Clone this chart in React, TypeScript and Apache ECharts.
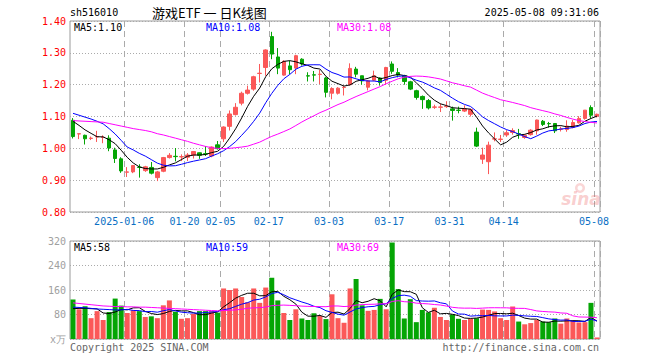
import React, { useEffect, useRef } from "react";
import * as echarts from "echarts";

// ---- data ----
const dates = (
  "2024-12-23,2024-12-24,2024-12-25,2024-12-26,2024-12-27,2024-12-30,2024-12-31,2025-01-02,2025-01-03,2025-01-06," +
  "2025-01-07,2025-01-08,2025-01-09,2025-01-10,2025-01-13,2025-01-14,2025-01-15,2025-01-16,2025-01-17,2025-01-20," +
  "2025-01-21,2025-01-22,2025-01-23,2025-01-24,2025-01-27,2025-02-05,2025-02-06,2025-02-07,2025-02-10,2025-02-11," +
  "2025-02-12,2025-02-13,2025-02-14,2025-02-17,2025-02-18,2025-02-19,2025-02-20,2025-02-21,2025-02-24,2025-02-25," +
  "2025-02-26,2025-02-27,2025-02-28,2025-03-03,2025-03-04,2025-03-05,2025-03-06,2025-03-07,2025-03-10,2025-03-11," +
  "2025-03-12,2025-03-13,2025-03-14,2025-03-17,2025-03-18,2025-03-19,2025-03-20,2025-03-21,2025-03-24,2025-03-25," +
  "2025-03-26,2025-03-27,2025-03-28,2025-03-31,2025-04-01,2025-04-02,2025-04-03,2025-04-07,2025-04-08,2025-04-09," +
  "2025-04-10,2025-04-11,2025-04-14,2025-04-15,2025-04-16,2025-04-17,2025-04-18,2025-04-21,2025-04-22,2025-04-23," +
  "2025-04-24,2025-04-25,2025-04-28,2025-04-29,2025-04-30,2025-05-06,2025-05-07,2025-05-08"
).split(",");

const tickDates = ["2025-01-06", "2025-01-20", "2025-02-05", "2025-02-17", "2025-03-03", "2025-03-17", "2025-03-31", "2025-04-14", "2025-05-08"];
const tickLabels = ["2025-01-06", "01-20", "02-05", "02-17", "03-03", "03-17", "03-31", "04-14", "05-08"];

const opens = [
  1.088, 1.045, 1.041, 1.031, 1.036, 1.034, 1.032, 0.995, 0.967, 0.925,
  0.926, 0.941, 0.930, 0.940, 0.908, 0.928, 0.971, 0.975, 0.973, 0.972,
  0.979, 0.986, 0.983, 0.976, 1.011, 1.030, 1.069, 1.106, 1.142, 1.173,
  1.186, 1.235, 1.254, 1.351, 1.287, 1.230, 1.259, 1.252, 1.280, 1.228,
  1.231, 1.232, 1.221, 1.173, 1.173, 1.191, 1.200, 1.249, 1.228, 1.192,
  1.214, 1.221, 1.214, 1.265, 1.238, 1.228, 1.209, 1.181, 1.163, 1.150,
  1.129, 1.129, 1.131, 1.124, 1.120, 1.117, 1.107, 1.051, 0.966, 0.958,
  1.029, 1.028, 1.042, 1.050, 1.046, 1.034, 1.043, 1.055, 1.085, 1.078,
  1.078, 1.060, 1.059, 1.066, 1.080, 1.094, 1.128, 1.101,
];
const closes = [
  1.037, 1.046, 1.030, 1.032, 1.037, 1.035, 1.001, 0.968, 0.929, 0.926,
  0.946, 0.940, 0.942, 0.922, 0.926, 0.971, 0.978, 0.974, 0.974, 0.979,
  0.990, 0.978, 0.982, 1.004, 0.999, 1.067, 1.108, 1.129, 1.173, 1.183,
  1.225, 1.236, 1.309, 1.296, 1.252, 1.273, 1.247, 1.291, 1.265, 1.227,
  1.230, 1.233, 1.176, 1.188, 1.189, 1.192, 1.251, 1.233, 1.212, 1.212,
  1.228, 1.207, 1.254, 1.242, 1.230, 1.210, 1.186, 1.160, 1.153, 1.127,
  1.130, 1.130, 1.132, 1.119, 1.119, 1.124, 1.122, 1.007, 0.979, 1.010,
  1.030, 1.029, 1.049, 1.056, 1.045, 1.041, 1.057, 1.089, 1.075, 1.077,
  1.055, 1.061, 1.070, 1.081, 1.094, 1.120, 1.104, 1.107,
];
const lows = [
  1.031, 1.029, 1.012, 1.026, 1.020, 1.016, 0.991, 0.954, 0.923, 0.910,
  0.922, 0.908, 0.926, 0.918, 0.897, 0.925, 0.968, 0.959, 0.960, 0.960,
  0.968, 0.967, 0.976, 0.972, 0.996, 1.020, 1.056, 1.103, 1.135, 1.169,
  1.181, 1.207, 1.228, 1.280, 1.233, 1.228, 1.233, 1.233, 1.260, 1.210,
  1.210, 1.202, 1.160, 1.154, 1.169, 1.166, 1.197, 1.223, 1.200, 1.182,
  1.212, 1.197, 1.200, 1.234, 1.223, 1.200, 1.183, 1.153, 1.124, 1.122,
  1.124, 1.114, 1.127, 1.087, 1.110, 1.114, 1.100, 1.004, 0.951, 0.919,
  1.022, 1.020, 1.036, 1.043, 1.030, 1.030, 1.040, 1.043, 1.070, 1.065,
  1.048, 1.053, 1.052, 1.063, 1.078, 1.090, 1.094, 1.097,
];
const highs = [
  1.095, 1.046, 1.043, 1.037, 1.055, 1.041, 1.041, 1.002, 0.972, 0.941,
  0.946, 0.950, 0.945, 0.957, 0.929, 0.973, 0.985, 1.001, 0.981, 0.985,
  0.991, 0.987, 1.007, 1.006, 1.023, 1.069, 1.119, 1.142, 1.178, 1.197,
  1.228, 1.265, 1.311, 1.366, 1.315, 1.277, 1.275, 1.294, 1.283, 1.239,
  1.243, 1.246, 1.225, 1.192, 1.192, 1.197, 1.267, 1.256, 1.228, 1.214,
  1.244, 1.223, 1.256, 1.273, 1.252, 1.231, 1.212, 1.184, 1.166, 1.155,
  1.137, 1.141, 1.148, 1.131, 1.131, 1.135, 1.125, 1.065, 1.002, 1.021,
  1.050, 1.042, 1.057, 1.063, 1.061, 1.044, 1.060, 1.090, 1.089, 1.083,
  1.079, 1.068, 1.088, 1.089, 1.101, 1.120, 1.135, 1.109,
];
// volume, 万
const volumes = [
  129, 97, 107, 68, 91, 62, 88, 132, 109, 85,
  94, 91, 72, 74, 68, 110, 126, 89, 66, 68,
  82, 91, 91, 91, 86, 165, 160, 165, 137, 120,
  165, 118, 168, 200, 126, 85, 62, 97, 67, 62,
  84, 75, 65, 146, 68, 53, 165, 196, 110, 92,
  95, 131, 97, 315, 163, 67, 130, 55, 95, 87,
  102, 72, 62, 80, 66, 62, 66, 68, 96, 95,
  90, 68, 62, 106, 57, 48, 52, 62, 57, 55,
  67, 50, 67, 60, 54, 55, 118, 5,
];
// moving-average values at the left edge (history before the window)
const ma5Head = [1.085, 1.072, 1.058, 1.047];
const ma10Head = [1.11, 1.104, 1.098, 1.092, 1.085, 1.077, 1.062, 1.045, 1.025];
const ma30Head = [
  1.087, 1.086, 1.085, 1.084, 1.083, 1.082, 1.078, 1.074, 1.07, 1.066,
  1.062, 1.059, 1.056, 1.052, 1.046, 1.042, 1.037, 1.032, 1.027, 1.022,
  1.016, 1.011, 1.006, 1.002, 1.0, 0.999, 1.0, 1.002, 1.004,
];
const vma5Head = [99, 100, 100, 99];
const vma10Head = [104, 103, 102, 100, 98, 97, 96, 95, 95];
const vma30Head = [
  118, 116, 114, 112, 110, 108, 107, 106, 106, 105,
  105, 104, 104, 103, 102, 101, 100, 99, 98, 97,
  96, 95, 94, 93, 92, 93, 94, 95, 97,
];

const RED = "#fb5858";
const GREEN = "#05a505";
const MONO = "DejaVu Sans Mono";

function movingAvg(vals: number[], n: number, head: number[]): number[] {
  return vals.map((_, i) => {
    if (i < n - 1) return head[i];
    let s = 0;
    for (let k = i - n + 1; k <= i; k++) s += vals[k];
    return s / n;
  });
}

export default function App() {
  const ref = useRef<HTMLDivElement>(null);
  useEffect(() => {
    const chart = echarts.init(ref.current!, null, { renderer: "svg" });
    const ma5 = movingAvg(closes, 5, ma5Head);
    const ma10 = movingAvg(closes, 10, ma10Head);
    const ma30 = movingAvg(closes, 30, ma30Head);
    const vma5 = movingAvg(volumes, 5, vma5Head);
    const vma10 = movingAvg(volumes, 10, vma10Head);
    const vma30 = movingAvg(volumes, 30, vma30Head);
    const last = (a: number[]) => a[a.length - 1];
    const isTick = (_i: number, v: string) => tickDates.includes(v);
    const vDash = { show: true, interval: isTick, lineStyle: { color: "#aaa", type: [6, 4] as any, width: 1 } };
    const hDot = { show: true, lineStyle: { color: "#aaa", type: [1, 2] as any, width: 1 } };
    const txt = (text: string, x: number, y: number, fill: string, align = "left", font = `10px "${MONO}"`) => ({
      type: "text",
      x,
      y,
      silent: true,
      z: 100,
      style: { text, fill, font, textAlign: align, textVerticalAlign: "middle" },
    });
    const lineS = (data: number[], color: string, gi: number) => ({
      type: "line",
      xAxisIndex: gi,
      yAxisIndex: gi,
      data,
      symbol: "none",
      silent: true,
      z: 5,
      lineStyle: { width: 1, color },
      itemStyle: { color },
    });

    chart.setOption({
      animation: false,
      backgroundColor: "#fff",
      grid: [
        { left: 70, top: 21, width: 530, height: 191, show: true, borderColor: "#9a9a9a", borderWidth: 1, backgroundColor: "transparent" },
        { left: 70, top: 241, width: 530, height: 98, show: true, borderColor: "#9a9a9a", borderWidth: 1, backgroundColor: "transparent" },
      ],
      xAxis: [
        {
          type: "category",
          gridIndex: 0,
          data: dates,
          boundaryGap: true,
          axisLine: { show: false },
          axisTick: { show: false },
          splitLine: vDash,
          axisLabel: {
            interval: isTick,
            formatter: (v: string) => tickLabels[tickDates.indexOf(v)],
            color: "#0a6fc4",
            fontFamily: MONO,
            fontSize: 10,
            margin: 4,
            padding: [0, 6, 0, 0],
          },
        },
        {
          type: "category",
          gridIndex: 1,
          data: dates,
          boundaryGap: true,
          axisLine: { show: false },
          axisTick: { show: false },
          axisLabel: { show: false },
          splitLine: vDash,
        },
      ],
      yAxis: [
        {
          type: "value",
          gridIndex: 0,
          min: 0.8,
          max: 1.4,
          interval: 0.1,
          axisLine: { show: false },
          axisTick: { show: false },
          splitLine: hDot,
          axisLabel: {
            color: "#ff0000",
            fontFamily: MONO,
            fontSize: 10,
            margin: 4,
            formatter: (v: number) => v.toFixed(2),
          },
        },
        {
          type: "value",
          gridIndex: 1,
          min: 0,
          max: 320,
          interval: 80,
          axisLine: { show: false },
          axisTick: { show: false },
          splitLine: hDot,
          axisLabel: {
            color: "#a0a0a0",
            fontFamily: MONO,
            fontSize: 10,
            margin: 4,
            formatter: (v: number) => (v === 0 ? "x万" : String(v)),
          },
        },
      ],
      series: [
        {
          type: "candlestick",
          xAxisIndex: 0,
          yAxisIndex: 0,
          barWidth: 4,
          silent: true,
          data: dates.map((_, i) => [opens[i], closes[i], lows[i], highs[i]]),
          itemStyle: { color: RED, color0: GREEN, borderColor: RED, borderColor0: GREEN, borderWidth: 1 },
        },
        lineS(ma5, "#000000", 0),
        lineS(ma10, "#0000ff", 0),
        lineS(ma30, "#ff00ff", 0),
        {
          type: "bar",
          xAxisIndex: 1,
          yAxisIndex: 1,
          barWidth: 5,
          silent: true,
          data: volumes.map((v, i) => ({ value: v, itemStyle: { color: closes[i] >= opens[i] ? RED : GREEN } })),
        },
        lineS(vma5, "#000000", 1),
        lineS(vma10, "#0000ff", 1),
        lineS(vma30, "#ff00ff", 1),
      ],
      graphic: [
        txt("sh516010", 70, 12, "#000"),
        txt("游戏ETF 一 日K线图", 152, 12, "#000", "left", `13px "Noto Sans CJK SC"`),
        txt("2025-05-08 09:31:06", 599, 12, "#000", "right"),
        txt("MA5:" + last(ma5).toFixed(2), 74, 27, "#000"),
        txt("MA10:" + last(ma10).toFixed(2), 206, 27, "#0000ff"),
        txt("MA30:" + last(ma30).toFixed(2), 337, 27, "#ff00ff"),
        txt("MA5:" + Math.round(last(vma5)), 74, 247, "#000"),
        txt("MA10:" + Math.round(last(vma10)), 206, 247, "#0000ff"),
        txt("MA30:" + Math.round(last(vma30)), 337, 247, "#ff00ff"),
        txt("Copyright 2025 SINA.COM", 70, 347, "#666"),
        txt("http://finance.sina.com.cn", 599, 347, "#666", "right"),
        {
          type: "ring",
          shape: { cx: 580, cy: 188, r: 5, r0: 2.5 },
          silent: true,
          z: 1,
          style: { fill: "rgba(235,90,90,0.25)" },
        },
        txt("sina", 581, 199, "rgba(235,90,90,0.3)", "center", `italic bold 17px "DejaVu Sans"`),
      ],
    });
    return () => chart.dispose();
  }, []);
  return (
    <div
      ref={ref}
      style={{ position: "absolute", left: 0, top: 0, width: 660, height: 360, background: "#fff" }}
    />
  );
}
